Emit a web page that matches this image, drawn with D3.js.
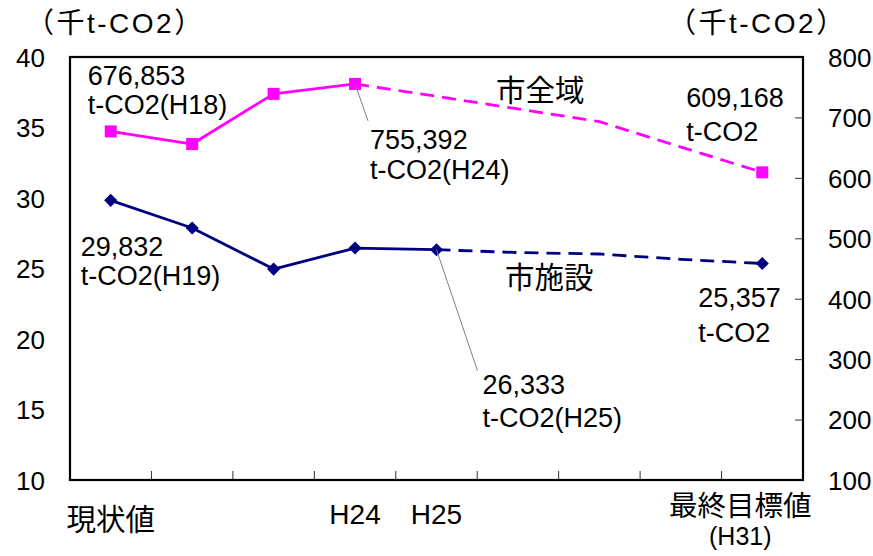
<!DOCTYPE html>
<html>
<head>
<meta charset="utf-8">
<script src="https://cdn.jsdelivr.net/npm/d3@7"></script>
<style>
  html, body { margin: 0; padding: 0; background: #fff; }
  svg { display: block; }
  text { fill: #000; }
</style>
</head>
<body>
<svg id="chart" width="873" height="556"></svg>
<script>
// Category positions along the x axis (only some are labelled)
const categories = [0, 1, 2, 3, 4, 5, 6, 7, 8];
const categoryLabels = ["現状値", "", "", "H24", "H25", "", "", "", "最終目標値"];
const finalSubLabel = "(H31)";

// 市全域 (right axis, 千t-CO2)
const cityWide = [676.853, 656, 739, 755.392, 735, 714, 693, 651, 609.168];
const cityWideActualEnd = 3;     // solid up to this index, dashed afterwards
const cityWideMarkers = [0, 1, 2, 3, 8];

// 市施設 (left axis, 千t-CO2)
const facilities = [29.832, 27.87, 24.96, 26.45, 26.333, 26.13, 26.03, 25.65, 25.357];
const facilitiesActualEnd = 4;
const facilitiesMarkers = [0, 1, 2, 3, 4, 8];

// Axis ticks
const leftTicks = [10, 15, 20, 25, 30, 35, 40];
const rightTicks = [100, 200, 300, 400, 500, 600, 700, 800];

const latin = "'Liberation Sans', Arial, 'Noto Sans CJK JP', sans-serif";
const cjk = "'Noto Sans CJK JP', 'Liberation Sans', sans-serif";

const svg = d3.select("#chart");
const plot = { left: 70, right: 803, top: 57, bottom: 480 };

const x = d3.scaleBand().domain(categories).range([plot.left, plot.right]).paddingInner(0).paddingOuter(0);
const cx = i => x(i) + x.bandwidth() / 2;
const yL = d3.scaleLinear().domain([10, 40]).range([plot.bottom, plot.top]);
const yR = d3.scaleLinear().domain([100, 800]).range([plot.bottom, plot.top]);

// Left axis labels
const gL = svg.append("g").attr("transform", `translate(${plot.left},0)`)
  .call(d3.axisLeft(yL).tickValues(leftTicks).tickSize(0).tickPadding(25));
gL.select(".domain").remove();
gL.selectAll("text").attr("font-family", latin).attr("font-size", 26).attr("dy", "0.36em");

// Right axis with inward ticks
const gR = svg.append("g").attr("transform", `translate(${plot.right},0)`)
  .call(d3.axisRight(yR).tickValues(rightTicks).tickSizeInner(-8).tickSizeOuter(0).tickPadding(25));
gR.select(".domain").remove();
gR.selectAll(".tick line").attr("stroke", "#333").attr("stroke-width", 1);
gR.selectAll("text").attr("font-family", latin).attr("font-size", 26).attr("dy", "0.36em");

// Bottom axis: labels at category centres
const gB = svg.append("g").attr("transform", `translate(0,${plot.bottom})`)
  .call(d3.axisBottom(x).tickFormat(i => categoryLabels[i]).tickSize(0).tickPadding(0));
gB.select(".domain").remove();
gB.selectAll("text")
  .attr("dy", null)
  .attr("font-family", i => /^H/.test(categoryLabels[i]) ? latin : cjk)
  .attr("font-size", i => /^H/.test(categoryLabels[i]) ? 28 : 29.5)
  .attr("y", i => /^H/.test(categoryLabels[i]) ? 44 : 50);
// Two-line label for the final target
gB.selectAll(".tick").filter(i => i === 8).select("text")
  .attr("x", -22).attr("y", 36).text(null)
  .call(t => {
    t.append("tspan").attr("x", -22).attr("y", 36).attr("font-size", 28.5).text(categoryLabels[8]);
    t.append("tspan").attr("x", -22).attr("y", 65).attr("font-family", latin).attr("font-size", 25).text(finalSubLabel);
  });

// Tick marks between categories, pointing into the plot
svg.append("g").selectAll("line")
  .data(categories.slice(1))
  .join("line")
  .attr("x1", i => x(i)).attr("x2", i => x(i))
  .attr("y1", plot.bottom).attr("y2", plot.bottom - 9)
  .attr("stroke", "#333").attr("stroke-width", 1);

// Plot frame
svg.append("rect")
  .attr("x", plot.left).attr("y", plot.top)
  .attr("width", plot.right - plot.left).attr("height", plot.bottom - plot.top)
  .attr("fill", "none").attr("stroke", "#000").attr("stroke-width", 2.2);

// Axis unit titles
function unitTitle(xPos) {
  const t = svg.append("text").attr("x", xPos).attr("y", 33)
    .attr("font-size", 28).attr("letter-spacing", 2.5).attr("font-family", cjk);
  t.append("tspan").text("（千");
  t.append("tspan").attr("font-family", latin).text("t-CO2");
  t.append("tspan").text("）");
}
unitTitle(26);
unitTitle(668);

// Series drawing helper
function drawSeries(values, y, actualEnd, markers, color, markerType, markerSize) {
  const solid = values.map((v, i) => i <= actualEnd ? v : null);
  const dashed = values.map((v, i) => i >= actualEnd ? v : null);
  const lineDef = d3.line().defined(d => d != null).x((d, i) => cx(i)).y(d => y(d));
  svg.append("path").attr("d", lineDef(solid))
    .attr("fill", "none").attr("stroke", color).attr("stroke-width", 2.8).attr("stroke-linejoin", "round");
  svg.append("path").attr("d", lineDef(dashed))
    .attr("fill", "none").attr("stroke", color).attr("stroke-width", 2.8).attr("stroke-dasharray", "14,8");
  const sym = d3.symbol().type(markerType).size(markerSize);
  svg.append("g").selectAll("path")
    .data(markers)
    .join("path")
    .attr("transform", i => `translate(${cx(i)},${y(values[i])})`)
    .attr("d", sym)
    .attr("fill", color);
}

drawSeries(cityWide, yR, cityWideActualEnd, cityWideMarkers, "#FF00FF", d3.symbolSquare, 144);
drawSeries(facilities, yL, facilitiesActualEnd, facilitiesMarkers, "#000080", d3.symbolDiamond2, 110);

// Leader lines
function leader(px, py, tx, ty) {
  svg.append("line").attr("x1", px).attr("y1", py).attr("x2", tx).attr("y2", ty)
    .attr("stroke", "#808080").attr("stroke-width", 1);
}
leader(cx(3), yR(cityWide[3]), cx(3) + 13, yR(cityWide[3]) + 37);
leader(cx(4), yL(facilities[4]), cx(4) + 41, yL(facilities[4]) + 121);

// Two-line value annotations placed relative to their data point
function annotate(ax, ay, dx, dy1, dy2, l1, l2) {
  const t = svg.append("text").attr("font-family", latin).attr("font-size", 27);
  t.append("tspan").attr("x", ax + dx).attr("y", ay + dy1).text(l1);
  t.append("tspan").attr("x", ax + dx).attr("y", ay + dy2).text(l2);
}
annotate(cx(0), yR(cityWide[0]), -23, -46, -17, "676,853", "t-CO2(H18)");
annotate(cx(0), yL(facilities[0]), -30, 56, 85, "29,832", "t-CO2(H19)");
annotate(cx(3), yR(cityWide[3]), 15, 65, 95, "755,392", "t-CO2(H24)");
annotate(cx(8), yR(cityWide[8]), -76, -65, -31, "609,168", "t-CO2");
annotate(cx(8), yL(facilities[8]), -64, 44, 79, "25,357", "t-CO2");
annotate(cx(4), yL(facilities[4]), 46, 144, 177, "26,333", "t-CO2(H25)");

// Series names
svg.append("text").attr("x", 496).attr("y", 101).attr("font-family", cjk).attr("font-size", 29.5).text("市全域");
svg.append("text").attr("x", 505).attr("y", 288).attr("font-family", cjk).attr("font-size", 29.5).text("市施設");
</script>
</body>
</html>
